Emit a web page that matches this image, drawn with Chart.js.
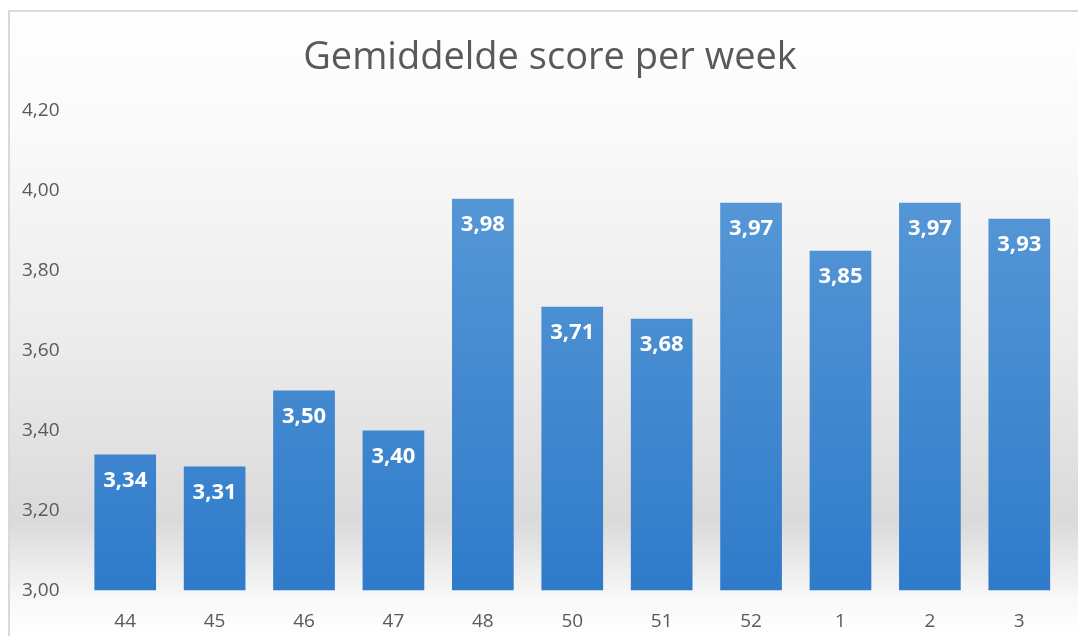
<!DOCTYPE html>
<html>
<head>
<meta charset="utf-8">
<script src="https://cdn.jsdelivr.net/npm/chart.js@4"></script>
<style>
  html, body { margin: 0; padding: 0; background: #fff; }
  #wrap { position: relative; width: 1078px; height: 636px; }
</style>
</head>
<body>
<div id="wrap"><canvas id="chart"></canvas></div>
<script>
const weeks = ["44", "45", "46", "47", "48", "50", "51", "52", "1", "2", "3"];
const scores = [3.34, 3.31, 3.50, 3.40, 3.98, 3.71, 3.68, 3.97, 3.85, 3.97, 3.93];
const yMin = 3.0;
const yMax = 4.2;
const yStep = 0.2;
const chartTitle = "Gemiddelde score per week";

const fmt = (v) => v.toFixed(2).replace(".", ",");

// background gradient + frame + title, like the Excel chart area
const backdrop = {
    id: "backdrop",
    beforeDraw(chart) {
        const { ctx, width, height } = chart;
        ctx.save();
        const g = ctx.createLinearGradient(0, 0, 0, height);
        g.addColorStop(0, "#ffffff");
        g.addColorStop(0.2, "#fafafa");
        g.addColorStop(0.55, "#ebebeb");
        g.addColorStop(0.82, "#dadada");
        g.addColorStop(0.94, "#f8f8f8");
        g.addColorStop(1, "#ffffff");
        ctx.fillStyle = g;
        ctx.fillRect(8, 10, width - 8, height - 10);
        ctx.strokeStyle = "#d9d9d9";
        ctx.lineWidth = 2;
        ctx.beginPath();
        ctx.moveTo(9, height);
        ctx.lineTo(9, 11);
        ctx.lineTo(width, 11);
        ctx.stroke();

        ctx.fillStyle = "#595959";
        ctx.font = "38px 'Open Sans', sans-serif";
        ctx.textAlign = "center";
        ctx.textBaseline = "middle";
        ctx.fillText(chartTitle, 550, 58);
        ctx.restore();
    }
};

// white value labels inside the top of each bar
const barLabels = {
    id: "barLabels",
    afterDatasetsDraw(chart) {
        const { ctx } = chart;
        const meta = chart.getDatasetMeta(0);
        ctx.save();
        ctx.fillStyle = "#ffffff";
        ctx.font = "bold 22px 'Open Sans', sans-serif";
        ctx.textAlign = "center";
        ctx.textBaseline = "middle";
        meta.data.forEach((bar, i) => {
            ctx.fillText(fmt(scores[i]), bar.x, bar.y + 26);
        });
        ctx.restore();
    }
};

const ctx = document.getElementById("chart").getContext("2d");
new Chart(ctx, {
    type: "bar",
    data: {
        labels: weeks,
        datasets: [
            {
                label: "Gemiddelde score",
                data: scores,
                categoryPercentage: 1,
                barPercentage: 0.69,
                backgroundColor: (c) => {
                    const area = c.chart.chartArea;
                    if (!area) return "#4a8fd3";
                    const g = c.chart.ctx.createLinearGradient(0, area.top, 0, area.bottom);
                    g.addColorStop(0, "#5e9dd8");
                    g.addColorStop(1, "#2f7bca");
                    return g;
                },
                borderWidth: 0,
            },
        ],
    },
    options: {
        responsive: true,
        maintainAspectRatio: false,
        animation: false,
        layout: {
            padding: { left: 9, right: 14, top: 111, bottom: -9 }
        },
        plugins: {
            legend: { display: false },
            tooltip: { enabled: false },
            title: { display: false },
        },
        scales: {
            x: {
                grid: { display: false },
                border: { display: false },
                ticks: {
                    color: "#595959",
                    font: { family: "'Open Sans', sans-serif", size: 19 },
                    padding: 12,
                },
            },
            y: {
                min: yMin,
                max: yMax,
                grid: { display: false },
                border: { display: false },
                ticks: {
                    stepSize: yStep,
                    color: "#595959",
                    font: { family: "'Open Sans', sans-serif", size: 19 },
                    padding: 13,
                    callback: (v) => fmt(v),
                },
            },
        },
    },
    plugins: [backdrop, barLabels],
});
</script>
</body>
</html>
